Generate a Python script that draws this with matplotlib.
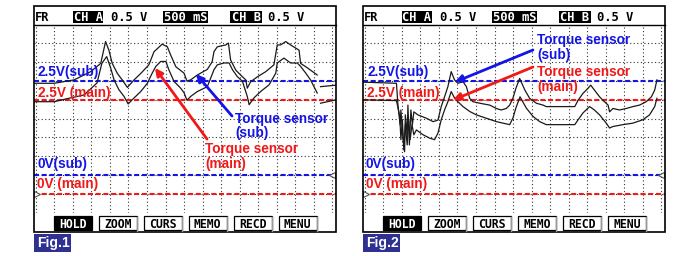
import numpy as np
import matplotlib.pyplot as plt
from matplotlib.patches import Rectangle

# Данные осциллограмм: время (с, 500 мс/дел), напряжение (В, 0.5 В/дел)
# Fig.1
t1_sub = [-0.05, 0.49, 1.03, 1.48, 1.75, 1.88, 1.97, 2.06, 2.20, 2.33, 2.47, 2.65, 2.83,
          3.05, 3.19, 3.41, 3.55, 3.64, 3.78, 4.00, 4.08, 4.18, 4.36, 4.63, 4.76, 4.81,
          4.90, 5.13, 5.20, 5.26, 5.40, 5.53, 5.67, 5.71, 5.80, 5.98, 6.21, 6.43, 6.52,
          6.61, 6.75, 6.88, 7.11, 7.15, 7.29, 7.42, 7.60, np.nan, 7.69, 8.11]
v1_sub = [2.44, 2.44, 2.53, 2.75, 2.97, 3.55, 3.32, 2.97, 2.70, 2.53, 2.33, 2.53, 2.70,
          2.93, 3.28, 3.48, 3.41, 3.19, 2.88, 2.71, 2.50, 2.53, 2.66, 2.81, 3.01, 3.28,
          3.41, 3.46, 3.51, 3.06, 2.79, 2.66, 2.53, 2.31, 2.48, 2.61, 2.75, 2.93, 3.46,
          3.46, 3.55, 3.46, 3.32, 2.97, 2.88, 2.79, 2.66, np.nan, 2.35, 2.39]
t1_main = [-0.05, 0.49, 0.84, 1.30, 1.65, 1.78, 1.91, 2.02, 2.11, 2.24, 2.38, 2.49, 2.65,
           2.83, 3.01, 3.14, 3.24, 3.37, 3.51, 3.59, 3.73, 3.91, 4.00, 4.08, 4.18, 4.36,
           4.63, 4.81, 4.90, 5.08, 5.22, 5.31, 5.44, 5.58, 5.71, 5.76, 5.89, 6.07, 6.30,
           6.48, 6.52, 6.70, 6.88, 7.06, 7.15, 7.29, 7.42, 7.60, np.nan, 7.69, 8.11]
v1_main = [2.45, 2.45, 2.53, 2.63, 2.95, 3.47, 3.65, 3.34, 3.03, 2.77, 2.59, 2.39, 2.55,
           2.72, 2.94, 3.21, 3.39, 3.52, 3.52, 3.30, 2.99, 2.81, 2.69, 2.49, 2.59, 2.72,
           2.85, 3.30, 3.43, 3.48, 3.48, 3.30, 3.12, 2.99, 2.59, 2.37, 2.55, 2.72, 2.90,
           3.21, 3.48, 3.61, 3.48, 3.48, 3.39, 3.21, 3.03, 2.68, np.nan, 2.41, 2.50]

# Fig.2
t2_sub = [-0.05, 0.85, 0.89, 0.95, 0.97, 1.03, 1.07, 1.09, 1.14, 1.16, 1.20, 1.24, 1.28,
          1.32, 1.43, 1.66, 1.84, 1.97, 2.06, 2.15, 2.24, 2.33, 2.42, 2.51, 2.65, 2.74,
          2.83, 2.92, 3.10, 3.37, 3.55, 3.68, 3.82, 3.91, 4.00, 4.08, 4.18, 4.32, 4.45,
          4.63, 4.81, 4.90, 5.17, 5.67, 5.76, 5.89, 6.03, 6.10, 6.20, 6.34, 6.47, 6.57,
          6.61, 6.70, 6.88, 7.06, 7.24, 7.42, 7.60, 7.74, 7.83, 7.89]
v2_sub = [2.47, 2.44, 1.86, 1.33, 1.73, 0.93, 0.62, 1.60, 1.06, 1.86, 0.80, 1.73, 1.33,
          1.68, 1.60, 1.51, 1.42, 1.46, 1.82, 2.08, 2.35, 2.75, 2.53, 2.44, 2.48, 2.35,
          2.04, 1.95, 1.91, 1.86, 1.77, 1.73, 1.77, 1.86, 2.05, 2.31, 2.57, 2.26, 2.04,
          1.91, 1.86, 1.82, 1.82, 1.82, 1.99, 2.17, 2.31, 2.39, 2.26, 2.08, 1.95, 1.86,
          1.68, 1.77, 1.73, 1.77, 1.82, 1.86, 1.95, 2.08, 2.26, 2.53]
t2_main = [-0.05, 0.85, 0.94, 0.97, 1.01, 1.05, 1.09, 1.14, 1.18, 1.22, 1.27, 1.32, 1.39,
           1.57, 1.75, 1.88, 1.97, 2.06, 2.15, 2.24, 2.33, 2.42, 2.51, 2.65, 2.83, 3.01,
           3.28, 3.55, 3.73, 3.91, 4.00, 4.08, 4.19, 4.36, 4.54, 4.72, 4.90, 5.17, 5.67,
           5.76, 5.89, 6.07, 6.20, 6.34, 6.52, 6.61, 6.70, 6.97, 7.24, 7.51, 7.69, 7.83, 7.89]
v2_main = [2.50, 2.48, 2.06, 1.44, 1.97, 1.17, 1.84, 1.30, 1.97, 1.44, 1.84, 1.57, 1.70,
           1.57, 1.48, 1.44, 1.61, 1.97, 2.23, 2.45, 2.72, 2.55, 2.45, 2.32, 2.19, 2.10,
           2.01, 1.92, 1.88, 1.84, 2.02, 2.29, 2.58, 2.28, 2.06, 1.92, 1.84, 1.84, 1.84,
           1.97, 2.15, 2.32, 2.23, 2.10, 1.88, 1.75, 1.79, 1.84, 1.88, 1.97, 2.10, 2.32, 2.54]

buttons = ["HOLD", "ZOOM", "CURS", "MEMO", "RECD", "MENU"]
fig_labels = ["Fig.1", "Fig.2"]

MAIN_GND = -0.5  # земля канала main на деление ниже
BLUE = "#1414e6"
RED = "#f01818"
NAVY = "#2e3192"
MONO = "DejaVu Sans Mono"
SANS = "Liberation Sans"

W, H = 700, 256
fig = plt.figure(figsize=(7, 2.56), dpi=100)

ov = fig.add_axes([0, 0, 1, 1], zorder=3)
ov.set_xlim(0, W)
ov.set_ylim(H, 0)
ov.axis("off")
ov.patch.set_alpha(0)

panels = [
    (0, t1_sub, v1_sub, t1_main, v1_main),
    (329, t2_sub, v2_sub, t2_main, v2_main),
]

for i, (dx, ts, vs, tm, vm) in enumerate(panels):
    # экран осциллографа
    sc = fig.add_axes([(34 + dx) / W, 1 - 213 / H, 302 / W, 188 / H], zorder=2)
    sc.set_xlim(-0.054, 8.108)
    sc.set_ylim(-1.01, 3.99)
    sc.axis("off")
    sc.patch.set_alpha(0)

    for t in np.arange(0, 8.01, 0.5):
        sc.axvline(t, color="#333333", lw=0.8, ls=(0, (1, 2.2)))
    for v in np.arange(-0.5, 3.6, 0.5):
        sc.axhline(v, color="#333333", lw=0.8, ls=(0, (1, 2.2)))

    sc.axhline(2.5, color=BLUE, lw=1.5, ls=(0, (2.4, 1.3)))
    sc.axhline(0.0, color=BLUE, lw=1.5, ls=(0, (2.4, 1.3)))
    sc.axhline(2.5 + MAIN_GND, color=RED, lw=1.5, ls=(0, (2.4, 1.3)))
    sc.axhline(0.0 + MAIN_GND, color=RED, lw=1.5, ls=(0, (2.4, 1.3)))

    sc.plot(ts, vs, color="#1a1a1a", lw=0.9)
    sc.plot(tm, np.array(vm) + MAIN_GND, color="#1a1a1a", lw=0.9)

    sc.plot(7.99, 0.0, marker="<", ms=5, mfc="white", mec="#555555", mew=0.8)
    sc.plot(0.03, MAIN_GND, marker=">", ms=5, mfc="white", mec="#555555", mew=0.8)

    # рамка и шапка
    ov.add_patch(Rectangle((34 + dx, 6), 302, 226, fill=False, ec="black", lw=1.2))
    ov.plot([34 + dx, 336 + dx], [25, 25], color="black", lw=1)
    ov.text(35 + dx, 21, "FR", family=MONO, weight="bold", fontsize=8.7, va="baseline")
    for x0, w, s in [(72.7, 30.6, "CH A"), (163, 45, "500 mS"), (230, 32, "CH B")]:
        ov.add_patch(Rectangle((x0 + dx, 10.7), w, 12, fc="black", ec="none"))
        ov.text(x0 + dx + w / 2, 21, s, family=MONO, weight="bold", fontsize=8.7,
                color="white", ha="center", va="baseline")
    ov.text(111 + dx, 21, "0.5 V", family=MONO, weight="bold", fontsize=8.7, va="baseline")
    ov.text(268 + dx, 21, "0.5 V", family=MONO, weight="bold", fontsize=8.7, va="baseline")

    # кнопки
    for k, b in enumerate(buttons):
        x0 = 54 + 45 * k + dx
        hold = k == 0
        ov.add_patch(Rectangle((x0, 216.3), 37.5, 13.4, fc="black" if hold else "white",
                               ec="black", lw=0.9))
        if not hold:
            ov.plot([x0 + 38.3, x0 + 38.3], [217, 230.5], color="#999999", lw=1)
        ov.text(x0 + 18.75, 228, b, family=MONO, weight="bold", fontsize=8.3,
                color="white" if hold else "black", ha="center", va="baseline")

    # подпись рисунка
    ov.add_patch(Rectangle((34 + dx, 234), 37, 18, fc=NAVY, ec="none"))
    ov.text(37 + dx, 247.3, fig_labels[i], family=SANS, weight="bold", fontsize=10,
            color="white", va="baseline")

    # уровни каналов
    lab = dict(family=SANS, weight="bold", fontsize=9.8, va="baseline")
    ov.text(38 + dx, 76, "2.5V(sub)", color=BLUE, **lab)
    ov.text(38 + dx, 97, "2.5V (main)", color=RED, **lab)
    ov.text(37 + dx, 168, "0V(sub)", color=BLUE, **lab)
    ov.text(37 + dx, 188, "0V (main)", color=RED, **lab)

lab = dict(family=SANS, weight="bold", fontsize=9.8, va="baseline")
arr = dict(arrowstyle="-|>", lw=2, mutation_scale=11, shrinkA=0, shrinkB=0)

# Fig.1 подписи датчиков
ov.text(235, 122.5, "Torque sensor", color=BLUE, **lab)
ov.text(235, 136.5, "(sub)", color=BLUE, **lab)
ov.text(205, 153.5, "Torque sensor", color=RED, **lab)
ov.text(205, 168, "(main)", color=RED, **lab)
ov.annotate("", xy=(155, 68), xytext=(207, 139), arrowprops=dict(color=RED, **arr))
ov.annotate("", xy=(196, 74), xytext=(232, 116), arrowprops=dict(color=BLUE, **arr))

# Fig.2 подписи датчиков
ov.text(537, 44, "Torque sensor", color=BLUE, **lab)
ov.text(537, 58.5, "(sub)", color=BLUE, **lab)
ov.text(537, 76, "Torque sensor", color=RED, **lab)
ov.text(537, 90.5, "(main)", color=RED, **lab)
ov.annotate("", xy=(455, 82), xytext=(533, 50), arrowprops=dict(color=BLUE, **arr))
ov.annotate("", xy=(453, 100), xytext=(533, 67), arrowprops=dict(color=RED, **arr))

fig.savefig("out.png", dpi=100)
